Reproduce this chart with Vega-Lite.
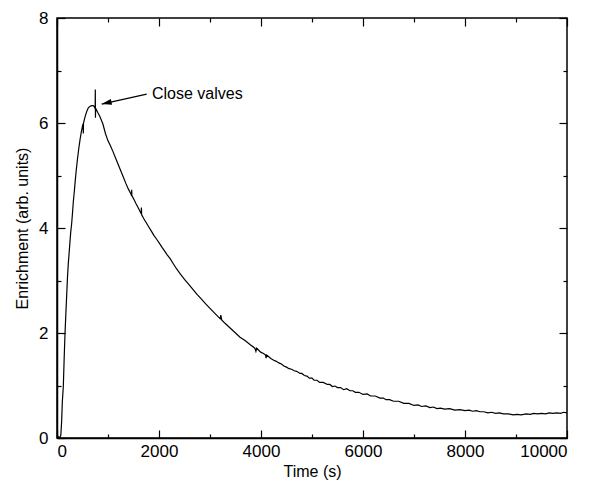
{
  "$schema": "https://vega.github.io/schema/vega-lite/v6.json",
  "width": 510,
  "height": 420,
  "autosize": "none",
  "padding": {"left": 57, "top": 18, "right": 27, "bottom": 49},
  "background": "white",
  "config": {
    "font": "Liberation Sans",
    "view": {"stroke": "black", "strokeWidth": 1.5},
    "axis": {
      "grid": false,
      "labelFont": "Liberation Sans",
      "titleFont": "Liberation Sans",
      "labelFontSize": 17,
      "titleFontSize": 16,
      "titleFontWeight": "normal",
      "labelColor": "black",
      "titleColor": "black",
      "domainColor": "black",
      "domainWidth": 1.5,
      "tickColor": "black",
      "tickWidth": 1.2
    }
  },
  "datasets": {
    "series": [
      {"t": 0, "v": 0.02}, {"t": 20, "v": 0.03}, {"t": 40, "v": 0.01}, {"t": 60, "v": 0.02}, {"t": 75, "v": 0.05},
      {"t": 90, "v": 0.3}, {"t": 105, "v": 0.7}, {"t": 124, "v": 0.98}, {"t": 140, "v": 1.5}, {"t": 157, "v": 1.99},
      {"t": 175, "v": 2.4}, {"t": 190, "v": 2.72}, {"t": 205, "v": 3.05}, {"t": 222, "v": 3.33}, {"t": 240, "v": 3.55},
      {"t": 255, "v": 3.75}, {"t": 270, "v": 3.93}, {"t": 288, "v": 4.09}, {"t": 305, "v": 4.3}, {"t": 320, "v": 4.5},
      {"t": 338, "v": 4.68}, {"t": 353, "v": 4.85}, {"t": 375, "v": 5.08}, {"t": 400, "v": 5.3}, {"t": 425, "v": 5.5},
      {"t": 451, "v": 5.68}, {"t": 475, "v": 5.82}, {"t": 500, "v": 5.94}, {"t": 512, "v": 5.99}, {"t": 516, "v": 5.8},
      {"t": 520, "v": 6.0}, {"t": 540, "v": 6.08}, {"t": 560, "v": 6.15}, {"t": 587, "v": 6.23}, {"t": 614, "v": 6.29},
      {"t": 650, "v": 6.32}, {"t": 680, "v": 6.33}, {"t": 710, "v": 6.33}, {"t": 740, "v": 6.3}, {"t": 748, "v": 6.27},
      {"t": 751, "v": 6.64}, {"t": 754, "v": 6.1}, {"t": 758, "v": 6.28}, {"t": 780, "v": 6.24}, {"t": 800, "v": 6.2},
      {"t": 843, "v": 6.12}, {"t": 900, "v": 5.98}, {"t": 950, "v": 5.8}, {"t": 1000, "v": 5.66}, {"t": 1050, "v": 5.56},
      {"t": 1100, "v": 5.45}, {"t": 1150, "v": 5.33}, {"t": 1200, "v": 5.21}, {"t": 1250, "v": 5.09}, {"t": 1300, "v": 4.97},
      {"t": 1350, "v": 4.85}, {"t": 1400, "v": 4.74}, {"t": 1450, "v": 4.65}, {"t": 1462, "v": 4.61}, {"t": 1465, "v": 4.73},
      {"t": 1468, "v": 4.62}, {"t": 1500, "v": 4.56}, {"t": 1550, "v": 4.46}, {"t": 1600, "v": 4.37}, {"t": 1650, "v": 4.27},
      {"t": 1655, "v": 4.39}, {"t": 1660, "v": 4.25}, {"t": 1700, "v": 4.18}, {"t": 1750, "v": 4.1}, {"t": 1800, "v": 4.02},
      {"t": 1850, "v": 3.94}, {"t": 1900, "v": 3.86}, {"t": 1950, "v": 3.79}, {"t": 2000, "v": 3.72}, {"t": 2060, "v": 3.63},
      {"t": 2118, "v": 3.55}, {"t": 2160, "v": 3.49}, {"t": 2216, "v": 3.42}, {"t": 2280, "v": 3.32}, {"t": 2346, "v": 3.22},
      {"t": 2420, "v": 3.12}, {"t": 2500, "v": 3.02}, {"t": 2580, "v": 2.93}, {"t": 2673, "v": 2.82}, {"t": 2750, "v": 2.73},
      {"t": 2837, "v": 2.64}, {"t": 2920, "v": 2.55}, {"t": 3000, "v": 2.47}, {"t": 3100, "v": 2.37}, {"t": 3200, "v": 2.27},
      {"t": 3212, "v": 2.34}, {"t": 3229, "v": 2.25}, {"t": 3300, "v": 2.18}, {"t": 3400, "v": 2.09}, {"t": 3500, "v": 2.0},
      {"t": 3588, "v": 1.92}, {"t": 3680, "v": 1.86}, {"t": 3784, "v": 1.78}, {"t": 3880, "v": 1.71}, {"t": 3900, "v": 1.65},
      {"t": 3915, "v": 1.71}, {"t": 4000, "v": 1.63}, {"t": 4050, "v": 1.61}, {"t": 4090, "v": 1.58}, {"t": 4100, "v": 1.52},
      {"t": 4112, "v": 1.58}, {"t": 4200, "v": 1.51}, {"t": 4250, "v": 1.48}, {"t": 4300, "v": 1.46}, {"t": 4350, "v": 1.43},
      {"t": 4400, "v": 1.41}, {"t": 4450, "v": 1.37}, {"t": 4500, "v": 1.35}, {"t": 4550, "v": 1.32}, {"t": 4600, "v": 1.31},
      {"t": 4650, "v": 1.28}, {"t": 4700, "v": 1.27}, {"t": 4765, "v": 1.23}, {"t": 4800, "v": 1.23}, {"t": 4850, "v": 1.19},
      {"t": 4900, "v": 1.18}, {"t": 4950, "v": 1.14}, {"t": 5000, "v": 1.14}, {"t": 5041, "v": 1.1}, {"t": 5100, "v": 1.1},
      {"t": 5150, "v": 1.06}, {"t": 5220, "v": 1.06}, {"t": 5300, "v": 1.02}, {"t": 5350, "v": 1.02}, {"t": 5400, "v": 0.98},
      {"t": 5450, "v": 0.99}, {"t": 5500, "v": 0.96}, {"t": 5560, "v": 0.96}, {"t": 5620, "v": 0.92}, {"t": 5680, "v": 0.94},
      {"t": 5745, "v": 0.9}, {"t": 5800, "v": 0.9}, {"t": 5850, "v": 0.87}, {"t": 5920, "v": 0.87}, {"t": 6000, "v": 0.83},
      {"t": 6080, "v": 0.84}, {"t": 6150, "v": 0.8}, {"t": 6240, "v": 0.8}, {"t": 6333, "v": 0.76}, {"t": 6400, "v": 0.76},
      {"t": 6450, "v": 0.73}, {"t": 6520, "v": 0.73}, {"t": 6600, "v": 0.7}, {"t": 6700, "v": 0.7}, {"t": 6800, "v": 0.66},
      {"t": 6900, "v": 0.66}, {"t": 7000, "v": 0.62}, {"t": 7080, "v": 0.63}, {"t": 7150, "v": 0.6}, {"t": 7230, "v": 0.61},
      {"t": 7314, "v": 0.58}, {"t": 7380, "v": 0.59}, {"t": 7450, "v": 0.56}, {"t": 7520, "v": 0.57}, {"t": 7600, "v": 0.55},
      {"t": 7700, "v": 0.56}, {"t": 7800, "v": 0.53}, {"t": 7900, "v": 0.54}, {"t": 8000, "v": 0.52}, {"t": 8080, "v": 0.53},
      {"t": 8150, "v": 0.51}, {"t": 8220, "v": 0.52}, {"t": 8294, "v": 0.5}, {"t": 8370, "v": 0.5}, {"t": 8450, "v": 0.48},
      {"t": 8520, "v": 0.49}, {"t": 8600, "v": 0.47}, {"t": 8680, "v": 0.48}, {"t": 8750, "v": 0.46}, {"t": 8850, "v": 0.46},
      {"t": 8947, "v": 0.44}, {"t": 9020, "v": 0.45}, {"t": 9100, "v": 0.44}, {"t": 9200, "v": 0.46}, {"t": 9280, "v": 0.45},
      {"t": 9350, "v": 0.47}, {"t": 9420, "v": 0.46}, {"t": 9500, "v": 0.47}, {"t": 9580, "v": 0.46}, {"t": 9650, "v": 0.48},
      {"t": 9720, "v": 0.47}, {"t": 9800, "v": 0.48}, {"t": 9870, "v": 0.47}, {"t": 9940, "v": 0.49}, {"t": 10000, "v": 0.48}
    ],
    "note": [
      {"t": 1759, "v": 6.55, "t2": 876, "v2": 6.36, "label": "Close valves", "lt": 1863, "lv": 6.55}
    ]
  },
  "resolve": {"axis": {"x": "independent", "y": "independent"}},
  "layer": [
    {
      "data": {"name": "series"},
      "mark": {"type": "line", "color": "black", "strokeWidth": 1.2},
      "encoding": {
        "x": {
          "field": "t", "type": "quantitative",
          "scale": {"domain": [0, 10000], "nice": false, "zero": false},
          "axis": {
            "orient": "bottom",
            "title": "Time (s)",
            "values": [0, 1000, 2000, 3000, 4000, 5000, 6000, 7000, 8000, 9000, 10000],
            "labelExpr": "datum.value % 2000 === 0 ? datum.label : ''",
            "format": "d",
            "tickSize": {"condition": {"test": "datum.value % 2000 === 0", "value": -8}, "value": -4},
            "labelPadding": 13,
            "titlePadding": 4
          }
        },
        "y": {
          "field": "v", "type": "quantitative",
          "scale": {"domain": [0, 8], "nice": false},
          "axis": {
            "orient": "left",
            "title": "Enrichment (arb. units)",
            "values": [0, 1, 2, 3, 4, 5, 6, 7, 8],
            "labelExpr": "datum.value % 2 === 0 ? datum.label : ''",
            "tickSize": {"condition": {"test": "datum.value % 2 === 0", "value": -8}, "value": -4},
            "labelPadding": 17,
            "titlePadding": 8
          }
        }
      }
    },
    {
      "data": {"name": "note"},
      "mark": {"type": "rule", "color": "black", "strokeWidth": 1.2},
      "encoding": {
        "x": {"field": "t", "type": "quantitative", "axis": null},
        "y": {"field": "v", "type": "quantitative", "axis": null},
        "x2": {"field": "t2"},
        "y2": {"field": "v2"}
      }
    },
    {
      "data": {"name": "note"},
      "mark": {"type": "point", "shape": "M0,0 L-0.6,2 L0.6,2 Z", "filled": true, "color": "black", "opacity": 1, "size": 100, "angle": 257.5},
      "encoding": {
        "x": {"field": "t2", "type": "quantitative", "axis": null},
        "y": {"field": "v2", "type": "quantitative", "axis": null}
      }
    },
    {
      "data": {"name": "note"},
      "mark": {"type": "text", "align": "left", "baseline": "middle", "fontSize": 16, "font": "Liberation Sans", "color": "black"},
      "encoding": {
        "x": {
          "field": "lt", "type": "quantitative",
          "axis": {
            "orient": "top", "title": null, "labels": false, "domain": false,
            "values": [0, 1000, 2000, 3000, 4000, 5000, 6000, 7000, 8000, 9000, 10000],
            "tickSize": {"condition": {"test": "datum.value % 2000 === 0", "value": -8}, "value": -4}
          }
        },
        "y": {
          "field": "lv", "type": "quantitative",
          "axis": {
            "orient": "right", "title": null, "labels": false, "domain": false,
            "values": [0, 1, 2, 3, 4, 5, 6, 7, 8],
            "tickSize": {"condition": {"test": "datum.value % 2 === 0", "value": -8}, "value": -4}
          }
        },
        "text": {"field": "label"}
      }
    }
  ]
}
